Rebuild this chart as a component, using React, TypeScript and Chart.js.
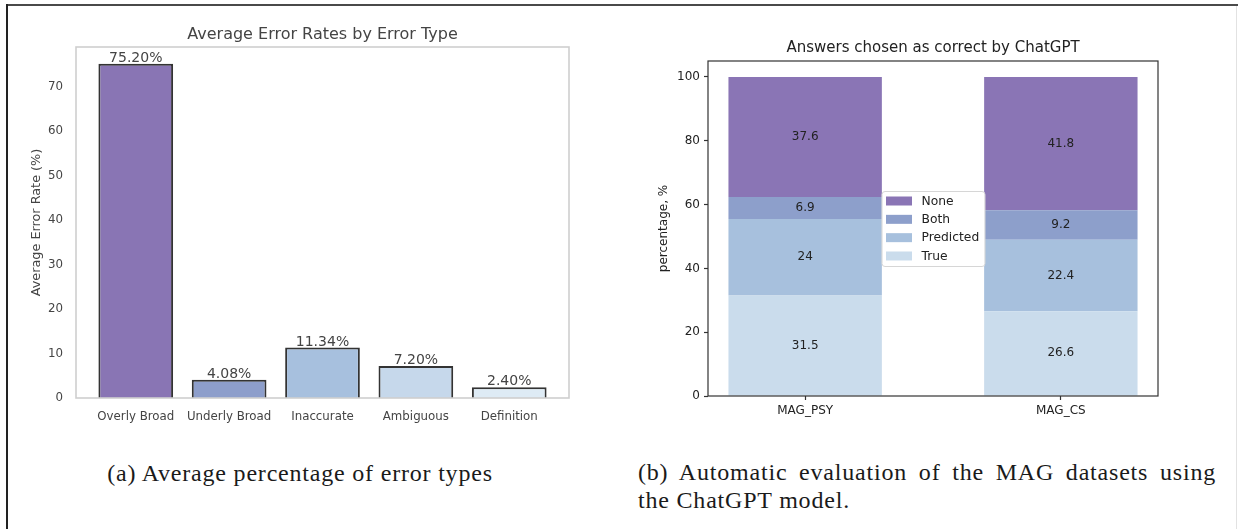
import React, { useEffect, useRef } from "react";
import { Chart, registerables } from "chart.js";

Chart.register(...registerables);
Chart.defaults.font.family = "'DejaVu Sans'";

// ---- Chart (a) data ----
const errorTypes = ["Overly Broad", "Underly Broad", "Inaccurate", "Ambiguous", "Definition"];
const errorRates = [75.2, 4.08, 11.34, 7.2, 2.4];
const errorColors = ["#8975b4", "#8d9ecb", "#a7c0de", "#c6d8eb", "#deebf5"];
const errorTicks = [0, 10, 20, 30, 40, 50, 60, 70];

// ---- Chart (b) data ----
const magDatasets = ["MAG_PSY", "MAG_CS"];
const trueVals = [31.5, 26.6];
const predictedVals = [24, 22.4];
const bothVals = [6.9, 9.2];
const noneVals = [37.6, 41.8];
const answerTicks = [0, 20, 40, 60, 80, 100];
const seriesNames = ["True", "Predicted", "Both", "None"];
const seriesColors = ["#cadcec", "#a7c0dd", "#8d9fcb", "#8a75b5"];

const FONT = "'DejaVu Sans'";

function ErrorChart() {
  const ref = useRef<HTMLCanvasElement>(null);
  useEffect(() => {
    const frame = {
      id: "frameA",
      afterDatasetsDraw(chart: any) {
        const { ctx, chartArea: a } = chart;
        ctx.save();
        ctx.strokeStyle = "#cfcfcf";
        ctx.lineWidth = 1.6;
        ctx.strokeRect(a.left, a.top, a.right - a.left, a.bottom - a.top);
        ctx.restore();
        const meta = chart.getDatasetMeta(0);
        ctx.save();
        ctx.font = `14px ${FONT}`;
        ctx.fillStyle = "#444444";
        ctx.textAlign = "center";
        ctx.textBaseline = "alphabetic";
        meta.data.forEach((el: any, i: number) => {
          ctx.fillText(errorRates[i].toFixed(2) + "%", el.x, el.y - 2);
        });
        ctx.restore();
      },
    };
    const chart = new Chart(ref.current!, {
      type: "bar",
      data: {
        datasets: [
          {
            data: errorRates.map((v, i) => ({ x: i, y: v })),
            backgroundColor: errorColors,
            borderColor: "#333333",
            borderWidth: 2,
            barPercentage: 0.8,
            categoryPercentage: 1,
          },
        ],
      },
      options: {
        responsive: false,
        animation: false,
        layout: { padding: { left: 0, top: 0, right: 51, bottom: 0 } },
        plugins: {
          legend: { display: false },
          tooltip: { enabled: false },
          title: {
            display: true,
            fullSize: false,
            text: "Average Error Rates by Error Type",
            color: "#444444",
            font: { family: FONT, size: 16, weight: "normal" },
            padding: { top: 25.4, bottom: 2.4 },
          },
        },
        scales: {
          x: {
            type: "linear",
            min: -0.64,
            max: 4.64,
            offset: false,
            afterBuildTicks: (s: any) => {
              s.ticks = errorTypes.map((_, i) => ({ value: i }));
            },
            afterFit: (s: any) => {
              s.height = 42;
            },
            ticks: {
              autoSkip: false,
              maxRotation: 0,
              padding: 12,
              color: "#444444",
              font: { family: FONT, size: 11.8 },
              callback: (v: any) => errorTypes[v as number],
            },
            grid: { display: false, drawTicks: false, offset: false },
            border: { display: false },
          },
          y: {
            type: "linear",
            min: 0,
            max: 78.96,
            afterBuildTicks: (s: any) => {
              s.ticks = errorTicks.map((v) => ({ value: v }));
            },
            afterFit: (s: any) => {
              s.width = 76;
            },
            ticks: {
              padding: 13,
              color: "#444444",
              font: { family: FONT, size: 11.8 },
            },
            grid: { display: false, drawTicks: false },
            border: { display: false },
            title: {
              display: true,
              text: "Average Error Rate (%)",
              color: "#444444",
              font: { family: FONT, size: 12.8 },
              padding: { top: 29.3, bottom: 0 },
            },
          },
        },
      },
      plugins: [frame],
    } as any);
    return () => chart.destroy();
  }, []);
  return (
    <canvas
      ref={ref}
      width={620}
      height={440}
      style={{ position: "absolute", left: 0, top: 0, width: 620, height: 440 }}
    />
  );
}

function AnswersChart() {
  const ref = useRef<HTMLCanvasElement>(null);
  useEffect(() => {
    const deco = {
      id: "decoB",
      afterDatasetsDraw(chart: any) {
        const { ctx, chartArea: a } = chart;
        // frame
        ctx.save();
        ctx.strokeStyle = "#333333";
        ctx.lineWidth = 1.2;
        ctx.strokeRect(a.left, a.top, a.right - a.left, a.bottom - a.top);
        ctx.restore();
        // segment labels
        ctx.save();
        ctx.font = `12px ${FONT}`;
        ctx.fillStyle = "#222222";
        ctx.textAlign = "center";
        ctx.textBaseline = "middle";
        chart.data.datasets.forEach((ds: any, di: number) => {
          const meta = chart.getDatasetMeta(di);
          meta.data.forEach((el: any, i: number) => {
            const v = ds.data[i].y;
            ctx.fillText(String(v), el.x, (el.y + el.base) / 2);
          });
        });
        ctx.restore();
        // legend (loc = center)
        const cx = (a.left + a.right) / 2;
        const cy = (a.top + a.bottom) / 2;
        const w = 103;
        const h = 75;
        const bx = cx - w / 2;
        const by = cy - h / 2;
        ctx.save();
        ctx.fillStyle = "rgba(255,255,255,0.85)";
        ctx.strokeStyle = "#d6d6d6";
        ctx.lineWidth = 1;
        ctx.beginPath();
        (ctx as any).roundRect(bx + 0.5, by + 0.5, w, h, 3);
        ctx.fill();
        ctx.stroke();
        const order = [3, 2, 1, 0];
        const step = 18.33;
        ctx.font = `12.3px ${FONT}`;
        ctx.textAlign = "left";
        ctx.textBaseline = "middle";
        order.forEach((di, k) => {
          const ds = chart.data.datasets[di];
          const ry = cy + (k - 1.5) * step;
          ctx.fillStyle = ds.backgroundColor;
          ctx.fillRect(bx + 4.5, ry - 4.5, 26, 9);
          ctx.fillStyle = "#222222";
          ctx.fillText(ds.label, bx + 40, ry + 0.5);
        });
        ctx.restore();
      },
    };
    const seriesValues = [trueVals, predictedVals, bothVals, noneVals];
    const chart = new Chart(ref.current!, {
      type: "bar",
      data: {
        datasets: seriesNames.map((name, si) => ({
          label: name,
          data: seriesValues[si].map((v, i) => ({ x: i, y: v })),
          backgroundColor: seriesColors[si],
          borderWidth: 0,
          barPercentage: 0.6,
          categoryPercentage: 1,
        })),
      },
      options: {
        responsive: false,
        animation: false,
        layout: { padding: { left: 0, top: 0, right: 80, bottom: 0 } },
        plugins: {
          legend: { display: false },
          tooltip: { enabled: false },
          title: {
            display: true,
            fullSize: false,
            text: "Answers chosen as correct by ChatGPT",
            color: "#222222",
            font: { family: FONT, size: 15, weight: "normal" },
            padding: { top: 39.5, bottom: 3.5 },
          },
        },
        scales: {
          x: {
            type: "linear",
            stacked: true,
            min: -0.38,
            max: 1.38,
            offset: false,
            afterBuildTicks: (s: any) => {
              s.ticks = magDatasets.map((_, i) => ({ value: i }));
            },
            afterFit: (s: any) => {
              s.height = 44;
            },
            ticks: {
              autoSkip: false,
              maxRotation: 0,
              padding: 4,
              color: "#222222",
              font: { family: FONT, size: 12 },
              callback: (v: any) => magDatasets[v as number],
            },
            grid: {
              display: true,
              drawOnChartArea: false,
              drawTicks: true,
              tickLength: 4,
              tickWidth: 1.2,
              tickColor: "#333333",
              offset: false,
            },
            border: { display: false },
          },
          y: {
            type: "linear",
            stacked: true,
            min: 0,
            max: 105,
            afterBuildTicks: (s: any) => {
              s.ticks = answerTicks.map((v) => ({ value: v }));
            },
            afterFit: (s: any) => {
              s.width = 88;
            },
            ticks: {
              padding: 4,
              color: "#222222",
              font: { family: FONT, size: 12 },
            },
            grid: {
              display: true,
              drawOnChartArea: false,
              drawTicks: true,
              tickLength: 4,
              tickWidth: 1.2,
              tickColor: "#333333",
            },
            border: { display: false },
            title: {
              display: true,
              text: "percentage, %",
              color: "#222222",
              font: { family: FONT, size: 12 },
              padding: { top: 36.8, bottom: 0 },
            },
          },
        },
      },
      plugins: [deco],
    } as any);
    return () => chart.destroy();
  }, []);
  return (
    <canvas
      ref={ref}
      width={618}
      height={440}
      style={{ position: "absolute", left: 620, top: 0, width: 618, height: 440 }}
    />
  );
}

export default function App() {
  const caption: React.CSSProperties = {
    position: "absolute",
    fontFamily: "'Liberation Serif', serif",
    fontSize: 24,
    lineHeight: "28px",
    letterSpacing: "0.8px",
    color: "#1a1a1a",
    whiteSpace: "nowrap",
  };
  return (
    <div
      style={{
        position: "fixed",
        left: 0,
        top: 0,
        width: 1238,
        height: 529,
        background: "#fff",
        overflow: "hidden",
      }}
    >
      <div style={{ position: "absolute", left: 6, top: 4, width: 1232, height: 2, background: "#4a4a4a" }} />
      <div style={{ position: "absolute", left: 6, top: 4, width: 2, height: 525, background: "#222" }} />
      <div style={{ position: "absolute", left: 1236, top: 6, width: 1, height: 523, background: "#e2e2e2" }} />
      <ErrorChart />
      <AnswersChart />
      <div style={{ ...caption, left: 0, top: 459, width: 600, textAlign: "center" }}>
        (a) Average percentage of error types
      </div>
      <div
        style={{
          ...caption,
          left: 638,
          top: 458,
          width: 578,
          textAlign: "justify",
          textAlignLast: "justify",
          whiteSpace: "normal",
        }}
      >
        (b) Automatic evaluation of the MAG datasets using
      </div>
      <div style={{ ...caption, left: 638, top: 486 }}>the ChatGPT model.</div>
    </div>
  );
}
